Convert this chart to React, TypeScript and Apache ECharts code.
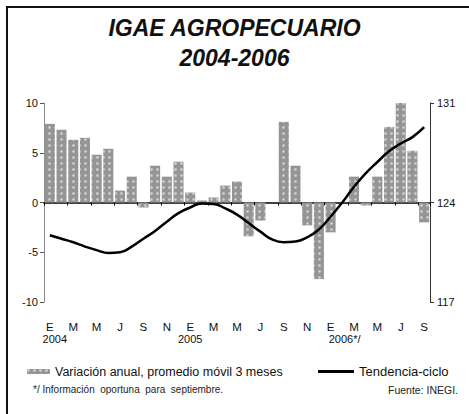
import React, { useEffect, useRef } from "react";
import * as echarts from "echarts";

const monthLetters = ["E", "F", "M", "A", "M", "J", "J", "A", "S", "O", "N", "D"];
const years = ["2004", "2005", "2006*/"];
const monthCount = 33;
const categories: string[] = Array.from({ length: monthCount }, (_, i) => `${years[Math.floor(i / 12)]}-${i % 12}`);

const variacionAnual = [
  7.9, 7.3, 6.3, 6.5, 4.8, 5.4, 1.2, 2.6, -0.5, 3.7, 2.6, 4.1,
  1.0, 0.2, 0.5, 1.7, 2.1, -3.4, -1.8, 0, 8.1, 3.7, -2.3, -7.7,
  -3.0, 0, 2.6, -0.3, 2.6, 7.6, 10.0, 5.2, -2.0,
];

const tendenciaCiclo = [
  121.7, 121.45, 121.2, 120.9, 120.65, 120.45, 120.5, 120.9, 121.45, 122.0, 122.65, 123.25,
  123.65, 123.93, 123.9, 123.58, 123.15, 122.55, 121.95, 121.4, 121.2, 121.25, 121.55, 122.1,
  123.0, 124.0, 125.1, 126.05, 126.85, 127.6, 128.15, 128.6, 129.3,
];

const leftTicks = { min: -10, max: 10, interval: 5 };
const rightTicks = [117, 124, 131];

const title = "IGAE AGROPECUARIO";
const subtitle = "2004-2006";
const barName = "Variación anual, promedio móvil 3 meses";
const lineName = "Tendencia-ciclo";
const footnote = "*/ Información  oportuna  para  septiembre.";
const source = "Fuente: INEGI.";

const FONT = "'Liberation Sans', Arial, sans-serif";

export default function App() {
  const ref = useRef<HTMLDivElement>(null);
  useEffect(() => {
    if (!ref.current) return;
    const chart = echarts.init(ref.current, null, { renderer: "svg" });
    const yearPad = [10, 0, 28];
    const rich: Record<string, any> = {};
    years.forEach((_, k) => {
      rich["y" + k] = {
        fontFamily: FONT,
        fontSize: 11,
        color: "#111",
        lineHeight: 12,
        padding: [0, 0, 0, yearPad[k]],
      };
    });
    const titleStyle = { fontFamily: FONT, fontSize: 23, fontWeight: "bold", fontStyle: "italic", color: "#111" };
    chart.setOption({
      animation: false,
      backgroundColor: "#fff",
      textStyle: { fontFamily: FONT },
      title: [
        { text: title, left: "center", top: 16, padding: 0, textStyle: titleStyle },
        { text: subtitle, left: "center", top: 46, padding: 0, textStyle: titleStyle },
      ],
      grid: { left: 44, right: 39, top: 103, bottom: 112, containLabel: false },
      legend: [
        {
          data: [barName],
          left: 27,
          top: 365,
          padding: 0,
          itemWidth: 23,
          itemHeight: 5,
          textStyle: { fontFamily: FONT, fontSize: 12.5, color: "#111" },
        },
        {
          data: [lineName],
          left: 318,
          top: 365,
          padding: 0,
          itemWidth: 36,
          itemHeight: 3,
          icon: "rect",
          textStyle: { fontFamily: FONT, fontSize: 13, color: "#111" },
        },
      ],
      xAxis: [
        {
          type: "category",
          data: categories,
          position: "bottom",
          axisLine: { onZero: true, lineStyle: { color: "#000", width: 1.5 } },
          axisTick: { show: true, interval: 1, length: 3, lineStyle: { color: "#000" } },
          axisLabel: { show: false },
          splitLine: { show: false },
        },
        {
          type: "category",
          data: categories,
          position: "bottom",
          axisLine: { show: false, onZero: false },
          axisTick: { show: false },
          axisLabel: {
            show: true,
            interval: 1,
            margin: 19,
            fontFamily: FONT,
            fontSize: 11.5,
            color: "#111",
            lineHeight: 12,
            rich,
            formatter: (v: string, i: number) => {
              const letter = monthLetters[i % 12];
              if (i % 12 === 0) {
                const k = Math.floor(i / 12);
                return `${letter}\n{y${k}|${years[k]}}`;
              }
              return letter;
            },
          },
          splitLine: { show: false },
        },
      ],
      yAxis: [
        {
          type: "value",
          min: leftTicks.min,
          max: leftTicks.max,
          interval: leftTicks.interval,
          position: "left",
          axisLine: { show: true, lineStyle: { color: "#8a8a8a", width: 1 } },
          axisTick: { show: true, length: 4, lineStyle: { color: "#555" } },
          axisLabel: { margin: 6, fontFamily: FONT, fontSize: 11, color: "#111" },
          splitLine: { show: false },
        },
        {
          type: "value",
          min: rightTicks[0],
          max: rightTicks[rightTicks.length - 1],
          position: "right",
          axisLine: { show: true, lineStyle: { color: "#333", width: 1 } },
          axisTick: { show: true, length: 4, customValues: rightTicks, lineStyle: { color: "#333" } },
          axisLabel: { margin: 7, fontFamily: FONT, fontSize: 11, color: "#111", customValues: rightTicks },
          splitLine: { show: false },
        },
      ],
      series: [
        {
          name: barName,
          type: "bar",
          xAxisIndex: 0,
          yAxisIndex: 0,
          data: variacionAnual,
          barWidth: "86%",
          itemStyle: {
            color: "#959595",
            decal: {
              symbol: "circle",
              symbolSize: 0.9,
              dashArrayX: 3,
              dashArrayY: 3,
              color: "rgba(255,255,255,0.55)",
            },
          },
        },
        {
          name: lineName,
          type: "line",
          xAxisIndex: 0,
          yAxisIndex: 1,
          data: tendenciaCiclo,
          smooth: true,
          symbol: "none",
          lineStyle: { color: "#000", width: 2.5 },
          itemStyle: { color: "#000" },
          z: 5,
        },
      ],
      graphic: [
        {
          type: "rect",
          shape: { x: 7, y: 7, width: 480, height: 430 },
          style: { fill: "none", stroke: "#111", lineWidth: 2 },
          silent: true,
        },
        {
          type: "text",
          left: 33,
          top: 384,
          style: { text: footnote, fontFamily: FONT, fontSize: 10, fill: "#222" },
        },
        {
          type: "text",
          left: 388,
          top: 384,
          style: { text: source, fontFamily: FONT, fontSize: 10.5, fill: "#222" },
        },
      ],
    });
    return () => chart.dispose();
  }, []);
  return <div ref={ref} style={{ position: "absolute", left: 0, top: 0, width: 469, height: 414 }} />;
}
